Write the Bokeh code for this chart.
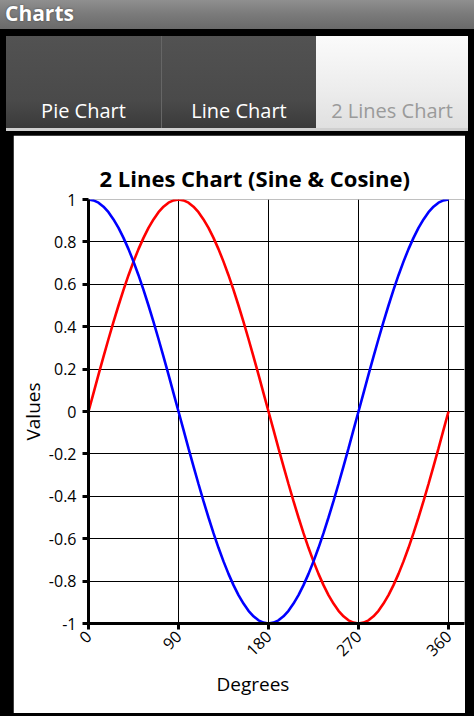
import math
from bokeh.plotting import figure
from bokeh.models import Div, FixedTicker, Range1d, ColumnDataSource, Title
from bokeh.layouts import column
from bokeh.embed import file_html
from bokeh.resources import INLINE

# ---- data ----
degrees = [0, 5, 10, 15, 20, 25, 30, 35, 40, 45, 50, 55, 60, 65, 70, 75, 80, 85, 90,
           95, 100, 105, 110, 115, 120, 125, 130, 135, 140, 145, 150, 155, 160, 165, 170, 175, 180,
           185, 190, 195, 200, 205, 210, 215, 220, 225, 230, 235, 240, 245, 250, 255, 260, 265, 270,
           275, 280, 285, 290, 295, 300, 305, 310, 315, 320, 325, 330, 335, 340, 345, 350, 355, 360]
sine = [0.0, 0.087, 0.174, 0.259, 0.342, 0.423, 0.5, 0.574, 0.643, 0.707, 0.766, 0.819, 0.866,
        0.906, 0.94, 0.966, 0.985, 0.996, 1.0,
        0.996, 0.985, 0.966, 0.94, 0.906, 0.866, 0.819, 0.766, 0.707, 0.643, 0.574, 0.5, 0.423,
        0.342, 0.259, 0.174, 0.087, 0.0,
        -0.087, -0.174, -0.259, -0.342, -0.423, -0.5, -0.574, -0.643, -0.707, -0.766, -0.819,
        -0.866, -0.906, -0.94, -0.966, -0.985, -0.996, -1.0,
        -0.996, -0.985, -0.966, -0.94, -0.906, -0.866, -0.819, -0.766, -0.707, -0.643, -0.574,
        -0.5, -0.423, -0.342, -0.259, -0.174, -0.087, 0.0]
cosine = [1.0, 0.996, 0.985, 0.966, 0.94, 0.906, 0.866, 0.819, 0.766, 0.707, 0.643, 0.574, 0.5,
          0.423, 0.342, 0.259, 0.174, 0.087, 0.0,
          -0.087, -0.174, -0.259, -0.342, -0.423, -0.5, -0.574, -0.643, -0.707, -0.766, -0.819,
          -0.866, -0.906, -0.94, -0.966, -0.985, -0.996, -1.0,
          -0.996, -0.985, -0.966, -0.94, -0.906, -0.866, -0.819, -0.766, -0.707, -0.643, -0.574,
          -0.5, -0.423, -0.342, -0.259, -0.174, -0.087, 0.0,
          0.087, 0.174, 0.259, 0.342, 0.423, 0.5, 0.574, 0.643, 0.707, 0.766, 0.819, 0.866,
          0.906, 0.94, 0.966, 0.985, 0.996, 1.0]
x_ticks = [0, 90, 180, 270, 360]
y_ticks = [1, 0.8, 0.6, 0.4, 0.2, 0, -0.2, -0.4, -0.6, -0.8, -1]
y_tick_labels = ["1", "0.8", "0.6", "0.4", "0.2", "0", "-0.2", "-0.4", "-0.6", "-0.8", "-1"]
tab_names = ["Pie Chart", "Line Chart", "2 Lines Chart"]
app_title = "Charts"
chart_title = "2 Lines Chart (Sine & Cosine)"
x_title = "Degrees"
y_title = "Values"

FONT = "Open Sans"

# ---- header (title bar + tabs) ----
tab_specs = [(6, 155), (162, 154), (316, 152)]
tabs_html = ""
for i, (name, (left, w)) in enumerate(zip(tab_names, tab_specs)):
    selected = i == 2
    bg = "linear-gradient(#fbfbfb,#ececec 60%,#e0e0e0)" if selected else \
         "linear-gradient(#525252,#4a4a4a 70%,#3a3a3a)"
    color = "#9a9a9a" if selected else "#ffffff"
    tabs_html += (
        f'<div style="position:absolute;left:{left}px;top:36px;width:{w}px;height:92px;background:{bg};"></div>'
        f'<div style="position:absolute;left:{left}px;top:96px;width:{w}px;height:30px;line-height:30px;'
        f'text-align:center;font-size:20px;color:{color};">{name}</div>'
    )
header_html = (
    f'<div style="position:relative;width:474px;height:135px;background:#000;font-family:\'{FONT}\';overflow:hidden;">'
    '<div style="position:absolute;left:0;top:0;width:474px;height:29px;background:linear-gradient(#8f8f8f,#7a7a7a 50%,#6a6a6a);"></div>'
    f'<div style="position:absolute;left:5px;top:-1px;line-height:28px;font-size:21px;font-weight:bold;color:#fff;'
    f'text-shadow:0 0 2px #444;">{app_title}</div>'
    + tabs_html +
    '<div style="position:absolute;left:161px;top:36px;width:1px;height:92px;background:#666;"></div>'
    '<div style="position:absolute;left:6px;top:128px;width:462px;height:3px;background:#cfcfcf;"></div>'
    '</div>'
)
header = Div(text=header_html, width=474, height=135, margin=0)

# ---- chart ----
p = figure(frame_width=376, frame_height=424,
           x_range=Range1d(0, 376), y_range=Range1d(-1, 1),
           output_backend="svg", toolbar_location=None,
           min_border_left=75, min_border_right=1, min_border_top=64, min_border_bottom=90,
           background_fill_color="white", border_fill_color="white",
           outline_line_color=None, margin=(0, 9, 3, 13))
p.title.text = chart_title
p.title.text_font = FONT
p.title.text_font_size = "22px"
p.title.text_font_style = "bold"
p.title.text_color = "black"
p.title.align = "left"
p.title.offset = 11
p.title.standoff = 13

src = ColumnDataSource(dict(x=degrees, s=sine, c=cosine))
p.line("x", "s", source=src, line_color="#ff0000", line_width=2.6)
p.line("x", "c", source=src, line_color="#0000ff", line_width=2.6)

for ax in (p.xaxis[0], p.yaxis[0]):
    ax.axis_line_width = 3
    ax.axis_line_color = "black"
    ax.major_tick_line_width = 3
    ax.major_tick_line_color = "black"
    ax.major_tick_out = 6
    ax.major_tick_in = 0
    ax.minor_tick_line_color = None
    ax.major_label_text_font = FONT
    ax.major_label_text_font_size = "16px"
    ax.major_label_text_color = "black"
    ax.axis_label_text_font = FONT
    ax.axis_label_text_font_size = "19px"
    ax.axis_label_text_font_style = "normal"
    ax.axis_label_text_color = "black"

p.xaxis.ticker = FixedTicker(ticks=x_ticks)
p.xaxis.major_label_orientation = math.pi / 4
p.xaxis.major_label_standoff = 4

p.yaxis.ticker = FixedTicker(ticks=y_ticks)
p.yaxis.major_label_overrides = {t: l for t, l in zip(y_ticks, y_tick_labels)}
p.yaxis.axis_label = y_title
p.yaxis.axis_label_standoff = 0
p.yaxis.major_label_standoff = 6

xt = Title(text=x_title, align="left", offset=128, standoff=8,
           text_font=FONT, text_font_size="19px", text_font_style="normal", text_color="black")
p.add_layout(xt, "below")

p.xgrid.ticker = FixedTicker(ticks=x_ticks)
p.ygrid.ticker = FixedTicker(ticks=y_ticks)
for g in (p.xgrid[0], p.ygrid[0]):
    g.grid_line_color = "black"
    g.grid_line_width = 1

layout = column(header, p, spacing=0, margin=0,
                styles={"background-color": "#000"}, width=474, height=716)

open("out.html", "w").write(file_html(layout, INLINE))
